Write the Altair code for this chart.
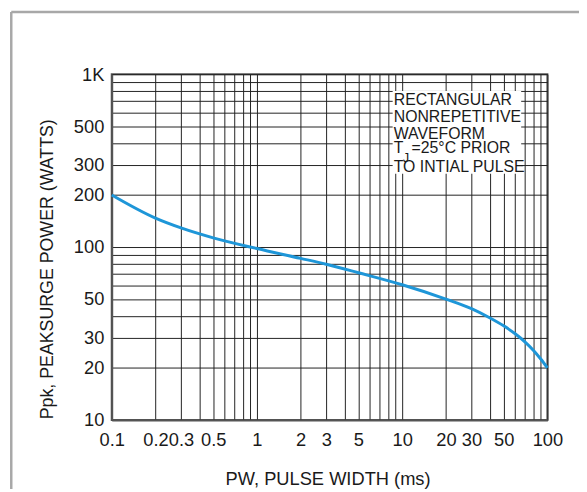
import altair as alt
import pandas as pd

# Curve data
pw_ms = [0.1, 0.2, 0.3, 0.5, 1, 2, 3, 5, 10, 20, 30, 40, 50, 60, 70, 80, 90, 100]
ppk_w = [200, 147, 129, 113, 98, 86, 79.5, 71, 60.5, 50, 44, 39, 35, 31.5, 28.3, 25.3, 22.5, 20.0]

# Grid positions (log minor grid)
x_grid = [0.1, 0.2, 0.3, 0.4, 0.5, 0.6, 0.7, 0.8, 0.9,
          1, 2, 3, 4, 5, 6, 7, 8, 9,
          10, 20, 30, 40, 50, 60, 70, 80, 90, 100]
y_grid = [10, 20, 30, 40, 50, 60, 70, 80, 90,
          100, 200, 300, 400, 500, 600, 700, 800, 900, 1000]

# Tick labels
x_labels = ["0.1", "0.2", "0.3", "0.5", "1", "2", "3", "5", "10", "20", "30", "50", "100"]
y_labels = ["10", "20", "30", "50", "100", "200", "300", "500"]

# Annotation (data coordinates: ms, watts)
note_lines = ["RECTANGULAR", "NONREPETITIVE", "WAVEFORM", "T", "TO INTIAL PULSE"]
note_y = [710, 568, 450, 374, 290]
note_x = 8.75
note_box_x = [8.6, 66]
note_box_y = [265, 800]

FONT = "Liberation Sans"
TXT = "#1a1a1a"

xscale = alt.Scale(type="log", domain=[0.1, 100], nice=False)
yscale = alt.Scale(type="log", domain=[10, 1000], nice=False)

x_label_expr = ("indexof([" + ",".join("'%s'" % s for s in x_labels) + "], format(datum.value, '~g')) >= 0"
                " ? format(datum.value, '~g') : ''")
y_label_expr = ("datum.value >= 999 ? '1K' : (indexof([" + ",".join("'%s'" % s for s in y_labels) +
                "], format(datum.value, '~g')) >= 0 ? format(datum.value, '~g') : '')")

xaxis = alt.Axis(values=x_grid, labelExpr=x_label_expr, grid=True, gridColor="#222222",
                 gridWidth=1, gridOpacity=1, ticks=False, tickSize=0,
                 domainColor="#555555", domainWidth=2,
                 labelFont=FONT, labelFontSize=18.5, labelColor=TXT, labelPadding=20,
                 labelBaseline="middle", labelAlign="center", labelOverlap=False,
                 labelFlush=False, labelBound=False,
                 title="PW, PULSE WIDTH (ms)", titleFont=FONT, titleFontSize=18.5,
                 titleFontWeight="normal", titleColor=TXT, titleX=218.5, titleY=59,
                 titleBaseline="middle", titleAlign="center", titleAnchor="middle")
yaxis = alt.Axis(values=y_grid, labelExpr=y_label_expr, grid=True, gridColor="#222222",
                 gridWidth=1, gridOpacity=1, ticks=False, tickSize=0,
                 domainColor="#555555", domainWidth=2,
                 labelFont=FONT, labelFontSize=18.5, labelColor=TXT, labelPadding=8,
                 labelBaseline="middle", labelAlign="right", labelOverlap=False,
                 labelFlush=False, labelBound=False,
                 title="Ppk, PEAKSURGE POWER (WATTS)", titleFont=FONT, titleFontSize=18,
                 titleFontWeight="normal", titleColor=TXT, titleX=-65, titleY=197,
                 titleAngle=270, titleBaseline="middle", titleAlign="center")

XE = dict(scale=xscale, axis=xaxis, title="PW, PULSE WIDTH (ms)")
YE = dict(scale=yscale, axis=yaxis, title="Ppk, PEAKSURGE POWER (WATTS)")

curve_df = pd.DataFrame({"x": pw_ms, "y": ppk_w})
curve = alt.Chart(curve_df).mark_line(color="#1E96D8", strokeWidth=3, interpolate="monotone").encode(
    x=alt.X("x:Q", **XE),
    y=alt.Y("y:Q", **YE),
)

box_df = pd.DataFrame({"x": [note_box_x[0]], "x2": [note_box_x[1]],
                       "y": [note_box_y[0]], "y2": [note_box_y[1]]})
box = alt.Chart(box_df).mark_rect(color="white", opacity=1).encode(
    x=alt.X("x:Q", **XE), x2="x2:Q",
    y=alt.Y("y:Q", **YE), y2="y2:Q",
)

notes_df = pd.DataFrame({"t": note_lines, "x": [note_x] * len(note_lines), "y": note_y})
notes = alt.Chart(notes_df).mark_text(font=FONT, fontSize=16, color=TXT, align="left",
                                      baseline="middle").encode(
    x=alt.X("x:Q", **XE),
    y=alt.Y("y:Q", **YE),
    text="t:N",
)

sub_df = pd.DataFrame({"t": ["J"], "x": [note_x], "y": [326]})
sub = alt.Chart(sub_df).mark_text(font=FONT, fontSize=13, color=TXT, align="left",
                                  baseline="middle", dx=9).encode(
    x=alt.X("x:Q", **XE),
    y=alt.Y("y:Q", **YE),
    text="t:N",
)

rest_df = pd.DataFrame({"t": ["=25°C PRIOR"], "x": [note_x], "y": [374]})
rest = alt.Chart(rest_df).mark_text(font=FONT, fontSize=16, color=TXT, align="left",
                                    baseline="middle", dx=18).encode(
    x=alt.X("x:Q", **XE),
    y=alt.Y("y:Q", **YE),
    text="t:N",
)

frame_df = pd.DataFrame({"k": [0]})
frame_left = alt.Chart(frame_df).mark_rule(color="#a8a8a8", strokeWidth=2.5).encode(
    x=alt.value(-101.7), y=alt.value(-63), y2=alt.value(420))
frame_top = alt.Chart(frame_df).mark_rule(color="#a8a8a8", strokeWidth=2.5).encode(
    x=alt.value(-101.7), x2=alt.value(473), y=alt.value(-63))

chart = alt.layer(curve, box, notes, sub, rest, frame_left, frame_top).properties(
    width=441, height=350,
    autosize=alt.AutoSizeParams(type="none"),
    padding={"left": 105, "top": 64, "right": 32, "bottom": 70},
).configure_view(stroke="#555555", strokeWidth=2)

chart.save("out.html", embed_options={"renderer": "svg", "actions": False})
